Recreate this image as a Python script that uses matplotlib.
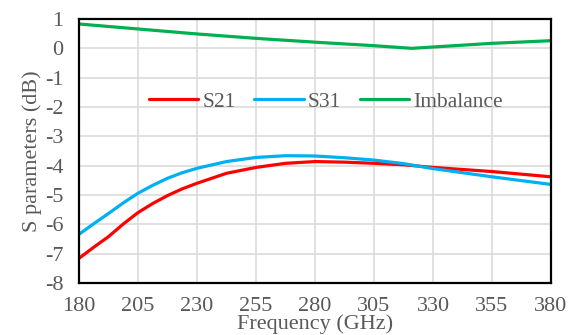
import numpy as np
import matplotlib.pyplot as plt

# values
freq = [180, 186.25, 192.5, 198.75, 205, 211.25, 217.5, 223.75, 230, 242.5, 255, 267.5,
        280, 292.5, 305, 317.5, 330, 342.5, 355, 367.5, 380]
s21 = [-7.16, -6.78, -6.42, -5.99, -5.60, -5.29, -5.02, -4.79, -4.60, -4.26, -4.06, -3.92,
       -3.86, -3.88, -3.92, -3.97, -4.06, -4.13, -4.20, -4.29, -4.38]
s31 = [-6.34, -5.98, -5.63, -5.27, -4.94, -4.67, -4.43, -4.24, -4.09, -3.86, -3.72, -3.66,
       -3.67, -3.73, -3.81, -3.93, -4.10, -4.24, -4.38, -4.51, -4.64]

imb_freq = [180, 205, 230, 255, 280, 305, 321, 355, 380]
imbalance = [0.83, 0.66, 0.49, 0.34, 0.21, 0.09, 0.0, 0.17, 0.26]

xticks = [180, 205, 230, 255, 280, 305, 330, 355, 380]
yticks = [1, 0, -1, -2, -3, -4, -5, -6, -7, -8]

plt.rcParams['font.family'] = ['Liberation Serif', 'DejaVu Serif']
plt.rcParams['axes.unicode_minus'] = False
gray = '#595959'

fig = plt.figure(figsize=(5.79, 3.35), dpi=100)
ax = fig.add_axes([0.1364, 0.1552, 0.8153, 0.7881])

ax.plot(freq, s21, color='#ff0000', lw=2.3, label='S21', solid_capstyle='round')
ax.plot(freq, s31, color='#00b0f0', lw=2.3, label='S31', solid_capstyle='round')
ax.plot(imb_freq, imbalance, color='#00b050', lw=2.3, label='Imbalance', solid_capstyle='round')

ax.set_xlim(180, 380)
ax.set_ylim(-8, 1)
ax.set_xticks(xticks)
ax.set_yticks(yticks)
ax.grid(True, color='#d9d9d9', lw=1.1)
ax.set_axisbelow(True)
ax.tick_params(length=0, labelsize=16, labelcolor=gray)
ax.tick_params(axis='y', pad=11)
ax.tick_params(axis='x', pad=10)
for s in ax.spines.values():
    s.set_linewidth(1.6)
    s.set_color('black')

ax.set_xlabel('Frequency (GHz)', fontsize=16, color=gray, labelpad=-1)
ax.set_ylabel('S parameters (dB)', fontsize=16, color=gray, labelpad=2)

leg = ax.legend(loc='center', bbox_to_anchor=(0.523, 0.687), ncol=3, frameon=False,
                fontsize=15.5, handlelength=2.3, handletextpad=0.2, columnspacing=0.85)
for t in leg.get_texts():
    t.set_color(gray)

fig.savefig('out.png', dpi=100)
